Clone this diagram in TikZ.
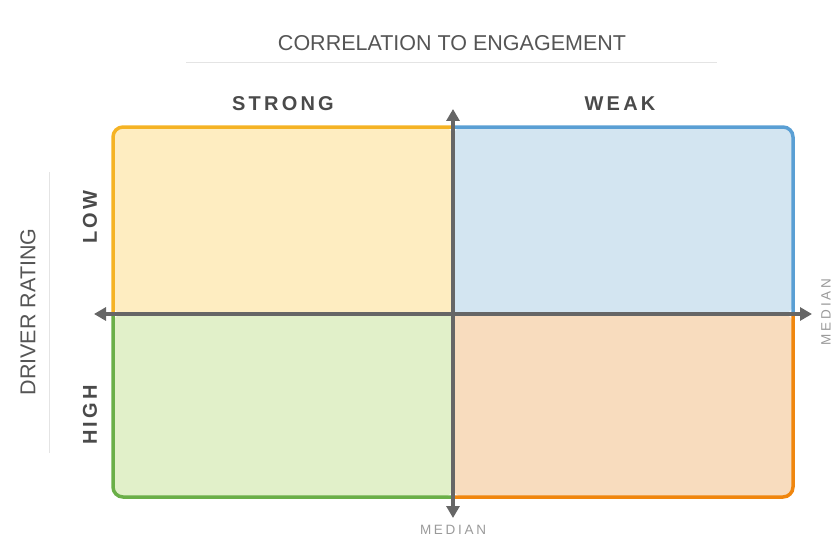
\documentclass[tikz,border=0pt]{standalone}
\usepackage{fontspec}
\setmainfont{Liberation Sans}
\newfontfamily\catfont[LetterSpace=16]{Liberation Sans Bold}
\newfontfamily\medfont[LetterSpace=20]{Liberation Sans}
\usetikzlibrary{arrows.meta}
\definecolor{ylS}{HTML}{F5B324}\definecolor{ylF}{HTML}{FEEDC1}
\definecolor{blS}{HTML}{5A9FD4}\definecolor{blF}{HTML}{D3E5F1}
\definecolor{grS}{HTML}{6AAF48}\definecolor{grF}{HTML}{E1F0C9}
\definecolor{orS}{HTML}{F0860E}\definecolor{orF}{HTML}{F8DCBE}
\definecolor{axisgray}{HTML}{666666}
\definecolor{textdark}{HTML}{4A4A4A}
\definecolor{textmid}{HTML}{555555}
\definecolor{textlight}{HTML}{9A9A9A}
\definecolor{sepgray}{HTML}{E4E4E4}
\tikzset{
  titletext/.style={font=\fontsize{21.5}{25}\selectfont, text=textmid, inner sep=0pt},
  cattext/.style={font=\catfont\fontsize{20}{23}\selectfont, text=textdark, inner sep=0pt},
  medtext/.style={font=\medfont\fontsize{13.5}{15}\selectfont, text=textlight, inner sep=0pt},
  border/.style={line width=3.5pt, rounded corners=10pt, line cap=round},
  axis/.style={draw=axisgray, line width=3.2pt, {Triangle[length=12pt,width=13pt]}-{Triangle[length=12pt,width=13pt]}},
  sep/.style={draw=sepgray, line width=1pt}
}
\begin{document}
\begin{tikzpicture}[x=1pt,y=-1pt]
\useasboundingbox (0,0) rectangle (837,559);
% quadrant fills
\fill[ylF, rounded corners=10pt] (453,314) -- (113,314) -- (113,127) -- (453,127) [sharp corners] -- cycle;
\fill[blF, rounded corners=10pt] (453,314) -- (453,127) -- (793,127) -- (793,314) [sharp corners] -- cycle;
\fill[grF, rounded corners=10pt] (453,314) -- (113,314) -- (113,497) -- (453,497) [sharp corners] -- cycle;
\fill[orF, rounded corners=10pt] (453,314) -- (793,314) -- (793,497) -- (453,497) [sharp corners] -- cycle;
% borders
\draw[border, ylS] (113,314) -- (113,127) -- (453,127);
\draw[border, blS] (453,127) -- (793,127) -- (793,314);
\draw[border, grS] (113,314) -- (113,497) -- (453,497);
\draw[border, orS] (453,497) -- (793,497) -- (793,314);
% axes
\coordinate (xl) at (94,314);
\coordinate (xr) at (812,314);
\coordinate (yt) at (453,109);
\coordinate (yb) at (453,518);
\draw[axis] (xl) -- (xr);
\draw[axis] (yt) -- (yb);
% titles
\node[titletext] (title) at (452,43) {CORRELATION TO ENGAGEMENT};
\coordinate (tl1) at (186,63); \coordinate (tl2) at (717,63);
\draw[sep] (tl1) -- (tl2);
\node[titletext, rotate=90] (driver) at (28,312) {DRIVER RATING};
\coordinate (dl1) at (49,172); \coordinate (dl2) at (49,453);
\draw[sep] (dl1) -- (dl2);
% category labels
\node[cattext] (strong) at (283,104) {STRONG};
\node[cattext] (weak) at (620,104) {WEAK};
\node[cattext, rotate=90] (low) at (90,217) {LOW};
\node[cattext, rotate=90] (high) at (90,415) {HIGH};
% median labels
\node[medtext] (medb) at (453,530) {MEDIAN};
\node[medtext, rotate=90] (medr) at (826,312) {MEDIAN};
\end{tikzpicture}
\end{document}
